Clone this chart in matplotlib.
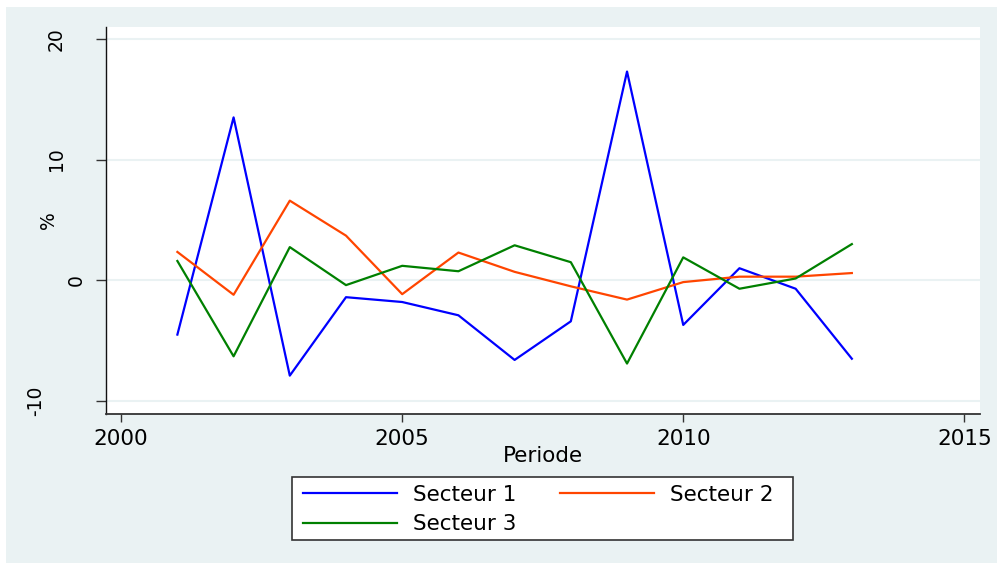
import matplotlib
matplotlib.use("Agg")
import matplotlib.pyplot as plt
from matplotlib.patches import Rectangle
from matplotlib.lines import Line2D

plt.rcParams['font.family'] = ['DejaVu Sans']

# Annual growth rates by sector (%)
years = [2001, 2002, 2003, 2004, 2005, 2006, 2007, 2008, 2009, 2010, 2011, 2012, 2013]
secteur1 = [-4.5, 13.5, -7.9, -1.4, -1.8, -2.9, -6.6, -3.4, 17.3, -3.7, 1.0, -0.7, -6.5]
secteur2 = [2.35, -1.2, 6.6, 3.7, -1.15, 2.3, 0.7, -0.5, -1.6, -0.15, 0.3, 0.3, 0.6]
secteur3 = [1.6, -6.3, 2.75, -0.4, 1.2, 0.75, 2.9, 1.5, -6.9, 1.9, -0.7, 0.15, 3.0]

series_labels = ["Secteur 1", "Secteur 2", "Secteur 3"]
series_colors = ["#0000ff", "#ff4500", "#008000"]

x_ticks = [2000, 2005, 2010, 2015]
y_ticks = [-10, 0, 10, 20]
y_ticklabels = ["-10", "0", "10", "20"]

x_label = "Periode"
y_label = "%"

W, H = 998, 563
fig = plt.figure(figsize=(W / 100, H / 100), dpi=100)
fig.patch.set_facecolor("white")

# graph region panel
panel_color = "#eaf2f3"
fig.patches.append(Rectangle((6 / W, 0), (997 - 6) / W, (563 - 7) / H,
                             transform=fig.transFigure, facecolor=panel_color,
                             edgecolor="none", zorder=-10))

ax = fig.add_axes([106 / W, (H - 414) / H, (980 - 106) / W, (414 - 27) / H])
ax.set_zorder(2)
ax.set_facecolor("white")

for vals, lab, col in zip([secteur1, secteur2, secteur3], series_labels, series_colors):
    ax.plot(years, vals, color=col, lw=1.6, label=lab, zorder=3)

ax.set_xlim(1999.73, 2015.28)
ax.set_ylim(-11.08, 20.99)

ax.set_xticks(x_ticks)
ax.set_xticklabels([str(t) for t in x_ticks], fontsize=15.5)
ax.set_yticks(y_ticks)
ax.set_yticklabels([])

ax.grid(axis="y", color=panel_color, lw=1.5, zorder=1)
ax.grid(axis="x", visible=False)

for s in ["top", "right"]:
    ax.spines[s].set_visible(False)
ax.spines["left"].set_color("#111111")
ax.spines["bottom"].set_color("#333333")
ax.spines["left"].set_linewidth(1.0)
ax.spines["bottom"].set_linewidth(1.3)

ax.tick_params(axis="x", length=6, width=1.0, color="#333333", pad=4.5)
ax.tick_params(axis="y", length=7.5, width=1.0, color="#333333")

# rotated y tick labels
for v, lab in zip(y_ticks, y_ticklabels):
    ax.annotate(lab, xy=(0, v), xycoords=("axes fraction", "data"),
                xytext=(-(10 + 20 * len(lab)) * 0.72, 0), textcoords="offset points",
                rotation=90, ha="center", va="center", fontsize=13.5)

ax.annotate(y_label, xy=(0, 0.5), xycoords="axes fraction",
            xytext=(-58 * 0.72, 0), textcoords="offset points",
            rotation=90, ha="center", va="center", fontsize=13.5)

ax.set_xlabel(x_label, fontsize=15.5, labelpad=-2)

# legend: frame drawn as a box, entries laid out row-wise (1, 2 / 3)
fig.patches.append(Rectangle((292 / W, (H - 540) / H), 501 / W, 63 / H,
                             transform=fig.transFigure, facecolor="white",
                             edgecolor="#333333", lw=1.2, zorder=1))
order = [0, 2, 1]
handles = [Line2D([], [], color=series_colors[i], lw=1.6) for i in order]
labels = [series_labels[i] for i in order]
leg = fig.legend(handles, labels, ncol=2,
                 loc="center left", bbox_to_anchor=(303 / W, (H - 509.5) / H),
                 fontsize=15.5, frameon=False, borderaxespad=0, borderpad=0,
                 handlelength=94 / 21.5, handletextpad=16 / 21.5,
                 labelspacing=0.45, columnspacing=2.03)
leg.set_zorder(5)

fig.savefig("out.png", dpi=100, facecolor=fig.get_facecolor())
